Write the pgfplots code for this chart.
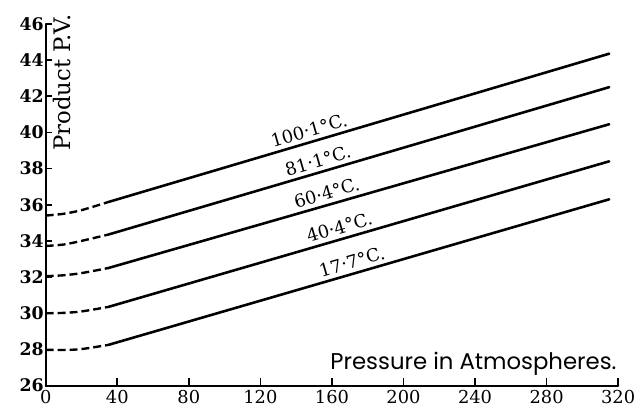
\documentclass[border=0pt]{standalone}
\usepackage{pgfplots}
\pgfplotsset{compat=1.18}
\usepackage{fontspec}
\setmainfont{DejaVu Serif}
\newfontfamily\gothic{Poppins}

\begin{document}
\begin{tikzpicture}
\useasboundingbox (-46bp,-26bp) rectangle (602bp,388bp);
\begin{axis}[
  at={(0,0)}, anchor=south west,
  scale only axis, width=576bp, height=364bp,
  xmin=0, xmax=320, ymin=26, ymax=46,
  axis x line=bottom, axis y line=left,
  axis line style={-, line width=2.2pt, line cap=round},
  xtick={0,40,...,320}, ytick={26,28,...,46},
  tick align=inside,
  xtick style={line width=1.6pt, black},
  ytick style={line width=1.6pt, black},
  x tick style={/pgfplots/major tick length=8bp},
  y tick style={/pgfplots/major tick length=6bp},
  /pgf/number format/assume math mode=true,
  xticklabel style={font=\fontsize{18}{18}\selectfont, yshift=-1bp},
  yticklabel style={font=\bfseries\fontsize{17.5}{17.5}\selectfont, xshift=1.5bp},
  clip=false,
]
% low-pressure portions, extrapolated (dashed)
\addplot[black, line width=2.4pt, dash pattern=on 8bp off 4bp, smooth] coordinates {(0,35.40)(10,35.50)(20,35.70)(35,36.15)};
\addplot[black, line width=2.4pt, dash pattern=on 8bp off 4bp, smooth] coordinates {(0,33.72)(10,33.80)(20,34.00)(35,34.35)};
\addplot[black, line width=2.4pt, dash pattern=on 8bp off 4bp, smooth] coordinates {(0,32.05)(10,32.10)(20,32.22)(35,32.50)};
\addplot[black, line width=2.4pt, dash pattern=on 8bp off 4bp, smooth] coordinates {(0,30.00)(10,30.02)(20,30.10)(35,30.35)};
\addplot[black, line width=2.4pt, dash pattern=on 8bp off 4bp, smooth] coordinates {(0,27.98)(10,27.97)(20,28.02)(35,28.25)};
% measured isotherms
\addplot[black, line width=2.6pt, line cap=round] coordinates {(35,36.15)(315,44.35)};
\addplot[black, line width=2.6pt, line cap=round] coordinates {(35,34.35)(315,42.50)};
\addplot[black, line width=2.6pt, line cap=round] coordinates {(35,32.50)(315,40.45)};
\addplot[black, line width=2.6pt, line cap=round] coordinates {(35,30.35)(315,38.40)};
\addplot[black, line width=2.6pt, line cap=round] coordinates {(35,28.25)(315,36.30)};
% isotherm labels, set just above each line
\begin{scope}[every node/.style={rotate=16.2, anchor=south, inner xsep=0pt, inner ysep=5bp, font=\fontsize{18}{18}\selectfont}]
\node at (axis cs:149,39.49) {100·1°C.};
\node at (axis cs:154,37.81) {81·1°C.};
\node at (axis cs:159,36.02) {60·4°C.};
\node at (axis cs:166,34.12) {40·4°C.};
\node at (axis cs:173,32.22) {17·7°C.};
\end{scope}
% axis titles
\node[rotate=90, font=\fontsize{23}{23}\selectfont] at (axis cs:9.2,42.75) {Product P.V.};
\node[anchor=base east, font=\gothic\fontsize{23}{23}\selectfont] at (axis cs:321,26.9) {Pressure in Atmospheres.};
\end{axis}
\end{tikzpicture}
\end{document}
